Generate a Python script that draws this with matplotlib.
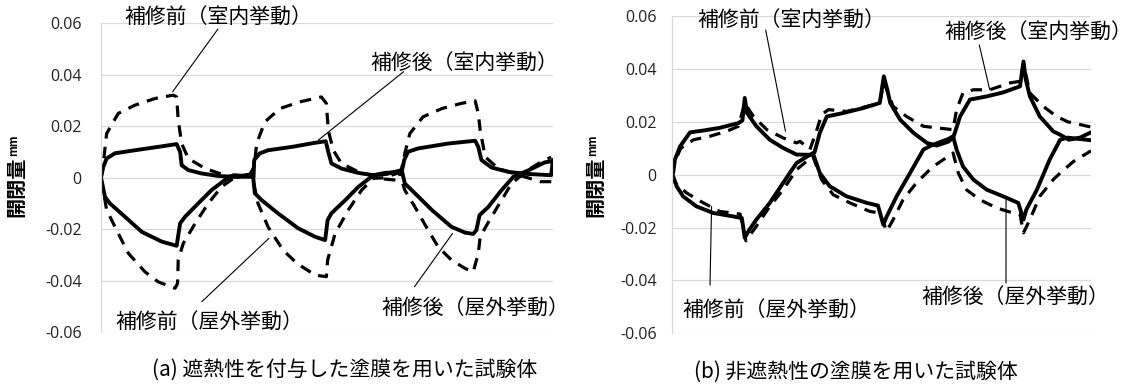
import matplotlib
matplotlib.use('Agg')
import matplotlib.pyplot as plt

plt.rcParams['font.family'] = ['Noto Sans CJK JP', 'DejaVu Sans']

# ---------------- (a) specimen with heat-shielding coating ----------------
# time in hours (3 days), opening/closing in mm
a_in_after_t = [0, 0.37, 0.9, 2.2, 5.4, 9.1, 12.05, 12.6, 12.85, 13.9, 16, 18.7, 21.1,
                24.3, 24.4, 25.3, 26.6, 30.4, 34.1, 35.8, 36.2, 36.7, 38.3, 41, 43.4,
                45.2, 47.9, 48.3, 48.9, 50.5, 55.3, 59.6, 60.1, 60.6, 62.2, 64.9, 68, 71.7, 72]
a_in_after_v = [0, 0.0043, 0.0075, 0.0095, 0.0107, 0.012, 0.0131, 0.0101, 0.0049, 0.003, 0.0017, 0.0007, 0.0004,
                0.0004, 0.0069, 0.0095, 0.0107, 0.012, 0.0136, 0.0142, 0.0101, 0.0056, 0.0036, 0.0019, 0.001,
                0.0019, 0.0023, 0.0069, 0.0101, 0.0114, 0.0133, 0.0144, 0.012, 0.0069, 0.004, 0.0023, 0.0015, 0.001, 0.007]

a_out_after_t = [0, 0.64, 1.4, 3.8, 6.5, 9.7, 12.05, 12.6, 13.4, 15.5, 17.6, 19.7, 21.1, 22.5, 24.2,
                 24.5, 25.6, 28.2, 31.4, 34.1, 35.7, 36.1, 36.7, 38.9, 41, 43.4, 45.5, 47.9,
                 48.4, 50, 52.7, 55.8, 58, 59.3, 59.8, 60.3, 61.7, 63.8, 65.7, 68, 70.7, 72]
a_out_after_v = [0, -0.0074, -0.0099, -0.0151, -0.021, -0.0248, -0.0264, -0.0177, -0.0151, -0.0099, -0.0048, -0.0009, 0.001, 0.0008, 0.0012,
                 -0.006, -0.0087, -0.0138, -0.0196, -0.0229, -0.0242, -0.0164, -0.0138, -0.0087, -0.0035, 0.001, 0.0015, 0.003,
                 -0.0022, -0.006, -0.0125, -0.019, -0.0213, -0.0218, -0.0203, -0.0145, -0.0113, -0.0048, 0.0004, 0.0028, 0.006, 0.0065]

a_in_before_t = [0, 0.37, 0.9, 2.75, 5.4, 8.6, 11.5, 12.05, 12.3, 12.85, 13.9, 16.6, 19.7, 21.5, 23.5,
                 24.4, 24.8, 26.1, 28.5, 31.7, 35.1, 35.9, 36.2, 37, 38.3, 41, 43.4, 45.2, 47.5,
                 48.4, 49.2, 51.3, 54.3, 57.4, 59.6, 60.1, 60.4, 61.2, 63.3, 65.7, 68, 70, 72]
a_in_before_v = [0, 0.0056, 0.0172, 0.025, 0.0282, 0.0308, 0.0321, 0.0314, 0.0224, 0.0133, 0.0075, 0.0036, 0.001, 0.0003, 0.0005,
                 0.0043, 0.0134, 0.0217, 0.0269, 0.0295, 0.0314, 0.0289, 0.0185, 0.0107, 0.0056, 0.0023, 0.0007, -0.0005, -0.001,
                 0.0095, 0.0172, 0.0237, 0.0269, 0.0289, 0.0299, 0.025, 0.0185, 0.0081, 0.0036, 0.0017, 0.0, -0.0015, -0.0015]

a_out_before_t = [0, 0.9, 2.75, 4.35, 7, 9.1, 11.8, 12.2, 12.3, 13.1, 15, 17.1, 19.2, 21.1, 22.5, 24,
                  25, 26.6, 29, 31.2, 34.1, 35.9, 36.1, 37.3, 39.4, 41.5, 43.4, 45, 47.5,
                  48.4, 50, 52.1, 53.7, 55.8, 58, 59.3, 60.1, 60.4, 61.9, 63.8, 65.4, 68, 70, 71.7]
a_out_before_v = [0, -0.0125, -0.0216, -0.0293, -0.0365, -0.0404, -0.0429, -0.041, -0.0319, -0.0255, -0.0177, -0.0099, -0.0035, -0.0002, 0.0008, 0.0015,
                  -0.0099, -0.019, -0.0281, -0.0332, -0.0378, -0.0384, -0.0319, -0.0216, -0.0125, -0.0048, -0.0002, 0.0, 0.002,
                  -0.0048, -0.0113, -0.0203, -0.0268, -0.0319, -0.0352, -0.0365, -0.0293, -0.0229, -0.0164, -0.0087, -0.0022, 0.003, 0.006, 0.008]

# ---------------- (b) specimen with non-heat-shielding coating ----------------
b_in_after_t = [0, 0.2, 0.5, 1.4, 3.1, 5.4, 8.2, 11.4, 12.1, 12.5, 12.9, 14.5, 16.8, 19.1, 21.4, 23.7,
                24.5, 25.4, 26.6, 29.4, 32.9, 35.7, 36.4, 37, 37.5, 39.2, 41.5, 43.8, 45.5, 47.5,
                48.3, 48.6, 49.5, 51.2, 54.1, 56.9, 59.8, 60.4, 60.8, 61.5, 63.2, 65.5, 66.7, 68.2, 70.1, 72]
b_in_after_v = [0, 0.0006, 0.0057, 0.0107, 0.016, 0.0167, 0.0177, 0.0195, 0.0205, 0.029, 0.0233, 0.0183, 0.0132, 0.0101, 0.0076, 0.0075,
                0.0085, 0.0158, 0.022, 0.0233, 0.0252, 0.0271, 0.0372, 0.0321, 0.0271, 0.0208, 0.0158, 0.012, 0.011, 0.0125,
                0.014, 0.0158, 0.022, 0.0284, 0.0296, 0.0311, 0.0334, 0.0428, 0.0359, 0.0296, 0.022, 0.0164, 0.0151, 0.0132, 0.014, 0.016]

b_out_after_t = [0, 0.2, 0.8, 1.9, 4.2, 7.1, 10.5, 12, 12.5, 13.3, 14.5, 16.8, 19.1, 21.4, 23.7, 24.3,
                 25.4, 27.1, 30, 33.5, 35.4, 36.3, 36.9, 38.6, 40.9, 43.2, 44.5, 47.5, 48.3,
                 48.9, 50, 51.8, 54.1, 56.9, 59.5, 60.4, 60.9, 62.7, 64.9, 66.7, 68, 72]
b_out_after_v = [0, -0.0006, -0.0044, -0.0082, -0.012, -0.0145, -0.0158, -0.0164, -0.0239, -0.0208, -0.017, -0.0107, -0.0031, 0.0044, 0.0075, 0.0076,
                 0.0006, -0.0044, -0.0082, -0.0107, -0.0117, -0.0189, -0.0158, -0.0082, 0.0006, 0.0095, 0.011, 0.0135, 0.0145,
                 0.0095, 0.0031, -0.0019, -0.0057, -0.0082, -0.0107, -0.017, -0.0132, -0.0057, 0.0057, 0.0132, 0.014, 0.013]

b_in_before_t = [0, 0.5, 1.5, 3.7, 6.5, 9.4, 11.4, 12.5, 14, 16.3, 19.1, 21.4, 22, 23.7,
                 24.9, 25.7, 26.9, 30, 33.5, 35.7, 36.4, 38, 40.3, 43.2, 45.5, 48.3,
                 48.9, 50, 51.8, 54.6, 58.1, 59.8, 60.4, 61.5, 63.8, 66.1, 68, 70, 72]
b_in_before_v = [0, 0.005, 0.01, 0.0132, 0.0145, 0.0164, 0.0183, 0.027, 0.022, 0.017, 0.0139, 0.012, 0.0126, 0.0095,
                 0.017, 0.0227, 0.0246, 0.0239, 0.0258, 0.0271, 0.035, 0.0258, 0.022, 0.0183, 0.0177, 0.017,
                 0.0246, 0.0309, 0.0321, 0.0321, 0.0347, 0.0353, 0.042, 0.0309, 0.0258, 0.022, 0.02, 0.019, 0.018]

b_out_before_t = [0, 0.5, 2.5, 5.4, 8.2, 11.7, 12.7, 14.5, 16.8, 19.1, 21.4, 24.2,
                  25.7, 27.7, 30.6, 34, 35.7, 36.9, 38, 39.7, 42, 44.3, 44.9, 48.3,
                  49.2, 50.6, 52.9, 55.8, 58.6, 59.8, 60.4, 61.5, 63.2, 65.5, 66.7, 69, 72]
b_out_before_v = [0, -0.003, -0.0069, -0.0107, -0.0139, -0.0149, -0.025, -0.0195, -0.012, -0.0057, 0.0019, 0.007,
                  -0.0019, -0.0076, -0.0107, -0.0139, -0.0145, -0.0214, -0.017, -0.0095, -0.0031, 0.0019, 0.0031, 0.0082,
                  0.0006, -0.0057, -0.0095, -0.0126, -0.0145, -0.015, -0.022, -0.017, -0.0082, -0.0019, 0.0006, 0.005, 0.009]

y_ticks = [-0.06, -0.04, -0.02, 0, 0.02, 0.04, 0.06]
y_tick_labels = ['-0.06', '-0.04', '-0.02', '0', '0.02', '0.04', '0.06']
y_label_main = '開閉量'
y_label_unit = 'mm'
label_in_before = '補修前（室内挙動）'
label_in_after = '補修後（室内挙動）'
label_out_before = '補修前（屋外挙動）'
label_out_after = '補修後（屋外挙動）'
caption_a = '(a) 遮熱性を付与した塗膜を用いた試験体'
caption_b = '(b) 非遮熱性の塗膜を用いた試験体'

W, H = 1133, 390
fig = plt.figure(figsize=(W / 100, H / 100), dpi=100)


def px_rect(left, top, right, bottom):
    return [left / W, 1 - bottom / H, (right - left) / W, (bottom - top) / H]


ax_a = fig.add_axes(px_rect(101, 23.3, 553, 332.3))
ax_b = fig.add_axes(px_rect(672, 16, 1091, 333.3))

GRID = '#d9d9d9'
SOLID = dict(color='black', lw=2.8, solid_joinstyle='round', solid_capstyle='round')
DASHED = dict(color='black', lw=2.3, dashes=(3.6, 2.6), dash_capstyle='butt')


def style(ax, pad):
    ax.set_xlim(0, 72)
    ax.set_ylim(-0.06, 0.06)
    ax.set_yticks(y_ticks)
    ax.set_yticklabels(y_tick_labels, fontfamily='Open Sans', fontsize=11.5, color='#222222')
    ax.set_xticks([])
    ax.tick_params(axis='y', length=0, pad=pad)
    ax.grid(axis='y', color=GRID, lw=0.9)
    ax.set_axisbelow(True)
    for s in ('top', 'right', 'bottom'):
        ax.spines[s].set_visible(False)
    ax.spines['left'].set_color(GRID)
    ax.spines['left'].set_linewidth(0.9)


style(ax_a, 14)
style(ax_b, 11)

ax_a.plot(a_in_before_t, a_in_before_v, **DASHED)
ax_a.plot(a_out_before_t, a_out_before_v, **DASHED)
ax_a.plot(a_in_after_t, a_in_after_v, **SOLID)
ax_a.plot(a_out_after_t, a_out_after_v, **SOLID)

ax_b.plot(b_in_before_t, b_in_before_v, **DASHED)
ax_b.plot(b_out_before_t, b_out_before_v, **DASHED)
ax_b.plot(b_in_after_t, b_in_after_v, **SOLID)
ax_b.plot(b_out_after_t, b_out_after_v, **SOLID)


def leader(ax, target, start_px):
    ax.annotate('', xy=target, xycoords='data',
                xytext=(start_px[0], H - start_px[1]), textcoords='figure pixels',
                arrowprops=dict(arrowstyle='-', color='black', lw=0.8,
                                shrinkA=0, shrinkB=0),
                annotation_clip=False)


def label(x_px, y_px, text):
    fig.text(x_px / W, 1 - y_px / H, text, ha='left', va='center', fontsize=15)


# labels and leader lines, panel (a)
label(124, 17, label_in_before)
leader(ax_a, (11.4, 0.0334), (218, 29))
label(370, 63, label_in_after)
leader(ax_a, (34.6, 0.0146), (403.6, 71.7))
label(115, 322, label_out_before)
leader(ax_a, (26.75, -0.0235), (201.8, 301.7))
label(381, 308, label_out_after)
leader(ax_a, (56.0, -0.0216), (414.5, 286.7))

# labels and leader lines, panel (b)
label(697, 20, label_in_before)
leader(ax_b, (19.5, 0.0164), (765.7, 30))
label(944, 32, label_in_after)
leader(ax_b, (54.6, 0.0321), (979.3, 45))
label(682, 310, label_out_before)
leader(ax_b, (6.8, -0.012), (710, 285))
label(921, 297, label_out_after)
leader(ax_b, (57.4, -0.0095), (1006, 283))

# y-axis titles
for xc in (16, 595):
    fig.text(xc / W, 1 - 217 / H, y_label_main, rotation=90, ha='center', va='bottom',
             fontsize=14.5, fontweight='bold')
    fig.text((xc - 2) / W, 1 - 156 / H, y_label_unit, rotation=90, ha='center', va='bottom',
             fontsize=8, fontweight='bold')

# captions
fig.text(345 / W, 1 - 370 / H, caption_a, ha='center', va='center', fontsize=15)
fig.text(856 / W, 1 - 372 / H, caption_b, ha='center', va='center', fontsize=15)

fig.savefig('out.png', dpi=100, facecolor='white')
